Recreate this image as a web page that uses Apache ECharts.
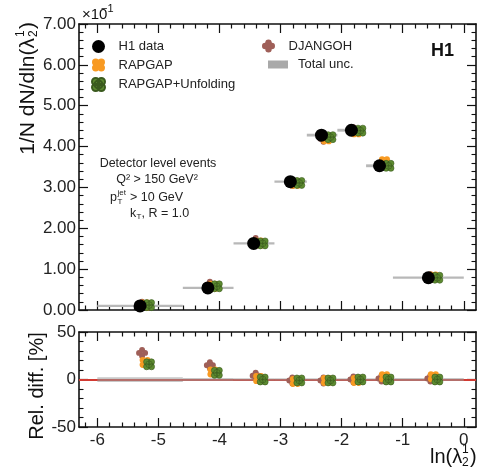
<!DOCTYPE html>
<html><head><meta charset="utf-8">
<script src="https://cdn.jsdelivr.net/npm/echarts@6/dist/echarts.min.js"></script>
<style>html,body{margin:0;padding:0;background:#fff}#c{width:478px;height:476px}</style>
</head><body><div id="c"></div>
<script>
// ---- data (top panel in units of 1e-1) ----
const binEdges   = [-6, -4.6, -3.77, -3.1, -2.57, -2.07, -1.6, -1.16, 0];
const binCenters = [-5.3, -4.19, -3.44, -2.84, -2.33, -1.84, -1.38, -0.58];
const h1Data     = [0.10, 0.54, 1.63, 3.14, 4.28, 4.40, 3.53, 0.79];
const rapgap     = [0.12, 0.58, 1.64, 3.10, 4.19, 4.36, 3.63, 0.81];
const rapgapUnf  = [0.12, 0.58, 1.63, 3.11, 4.23, 4.39, 3.53, 0.79];
const djangoh    = [0.13, 0.62, 1.69, 3.11, 4.19, 4.40, 3.57, 0.80];
const totalUncPct  = [2.5, 1.5, 1.0, 0.8, 0.8, 0.8, 1.0, 1.5];
const relRapgap    = [18, 8, 1, -2, -1, -1, 3, 3];
const relRapgapUnf = [16, 7, 0, -1, -1, 0, 0, 0];
const relDjangoh   = [28, 15, 4, -1, -1, 0, 1, 1];
const xMajorTicks  = [-6, -5, -4, -3, -2, -1, 0];
const xTickLabels  = ['-6', '-5', '-4', '-3', '-2', '-1', '0'];

const FF = '"Liberation Sans", Arial, Helvetica, sans-serif';
const xMinorTicks = [];
for (let k = -31; k <= 0; k++) { const v = Math.round(k * 2) / 10; if (Math.abs(v - Math.round(v)) > 1e-6) xMinorTicks.push(v); }

function circ(cx, cy, r) {
  return `M${cx - r} ${cy} A${r} ${r} 0 1 0 ${cx + r} ${cy} A${r} ${r} 0 1 0 ${cx - r} ${cy} Z `;
}
const d = 2.4, r = 3.1;
const xClover = 'path://' + circ(7 - d, 7 - d, r) + circ(7 + d, 7 - d, r) + circ(7 - d, 7 + d, r) + circ(7 + d, 7 + d, r) + circ(7, 7, 3.4);
const pd = 3.2;
const plusClover = 'path://' + circ(7, 7 - pd, r) + circ(7 + pd, 7, r) + circ(7, 7 + pd, r) + circ(7 - pd, 7, r) + circ(7, 7, 3.6) +
  'M6.4 4 L7.6 4 L7.6 6.4 L10 6.4 L10 7.6 L7.6 7.6 L7.6 10 L6.4 10 L6.4 7.6 L4 7.6 L4 6.4 L6.4 6.4 Z';

const lineCol = '#111';
function xAx(grid, pos, ticks, len, showLabel, showLine) {
  return {
    type: 'value', gridIndex: grid, position: pos, min: -6.3, max: 0.2,
    axisLine: { show: showLine, onZero: false, lineStyle: { color: lineCol, width: 1.6 } },
    axisTick: { show: true, inside: true, length: len, customValues: ticks, lineStyle: { color: lineCol, width: 1.2 } },
    axisLabel: {
      show: showLabel, customValues: xMajorTicks, margin: 5, fontSize: 17, color: '#222', fontFamily: FF,
      formatter: v => xTickLabels[xMajorTicks.indexOf(Math.round(v))]
    },
    splitLine: { show: false }
  };
}
function yAx(grid, pos, min, max, interval, showLabel, fmt) {
  return {
    type: 'value', gridIndex: grid, position: pos, min: min, max: max, interval: interval,
    axisLine: { show: true, onZero: false, lineStyle: { color: lineCol, width: 1.6 } },
    axisTick: { show: true, inside: true, length: 9, lineStyle: { color: lineCol, width: 1.2 } },
    minorTick: { show: true, splitNumber: 5, length: 4.5, lineStyle: { color: lineCol, width: 1.1 } },
    axisLabel: { show: showLabel, margin: 3, fontSize: 17, color: '#222', fontFamily: FF, formatter: fmt },
    splitLine: { show: false }, minorSplitLine: { show: false }
  };
}

function bandItem(minH, color, opacity) {
  return function (params, api) {
    const lo = api.value(0), hi = api.value(1), v = api.value(2), u = api.value(3);
    const p1 = api.coord([lo, v + u]), p2 = api.coord([hi, v - u]);
    const h = Math.max(p2[1] - p1[1], minH);
    return { type: 'rect', shape: { x: p1[0], y: (p1[1] + p2[1]) / 2 - h / 2, width: p2[0] - p1[0], height: h },
      style: { fill: color, opacity: opacity } };
  };
}

const topBand = binCenters.map((c, i) => [binEdges[i], binEdges[i + 1], h1Data[i], h1Data[i] * totalUncPct[i] / 100]);
const botBand = binCenters.map((c, i) => [binEdges[i], binEdges[i + 1], 0, totalUncPct[i]]);
const pts = arr => binCenters.map((c, i) => [c, arr[i]]);

const orange = '#f89a22', green = '#5d8b30', brown = '#9f5f58';

const option = {
  animation: false,
  grid: [
    { left: 79, right: 2, top: 24, height: 286 },
    { left: 79, right: 2, top: 332, height: 95 }
  ],
  xAxis: [
    xAx(0, 'bottom', xMajorTicks, 9, false, true),
    xAx(0, 'bottom', xMinorTicks, 4.5, false, false),
    xAx(0, 'top', xMajorTicks, 9, false, true),
    xAx(0, 'top', xMinorTicks, 4.5, false, false),
    xAx(1, 'bottom', xMajorTicks, 9, true, true),
    xAx(1, 'bottom', xMinorTicks, 4.5, false, false),
    xAx(1, 'top', xMajorTicks, 9, false, true),
    xAx(1, 'top', xMinorTicks, 4.5, false, false)
  ],
  yAxis: [
    yAx(0, 'left', 0, 7, 1, true, v => v.toFixed(2)),
    yAx(0, 'right', 0, 7, 1, false, v => ''),
    yAx(1, 'left', -50, 50, 50, true, v => String(v)),
    yAx(1, 'right', -50, 50, 50, false, v => '')
  ],
  legend: [
    { data: ['H1 data', 'RAPGAP', 'RAPGAP+Unfolding'], orient: 'vertical', left: 86, top: 35,
      itemWidth: 30, itemHeight: 13, itemGap: 5.5, selectedMode: false,
      textStyle: { fontSize: 13, color: '#222', fontFamily: FF } },
    { data: ['DJANGOH'], orient: 'vertical', left: 257, top: 34.5, itemWidth: 30, itemHeight: 13, selectedMode: false,
      textStyle: { fontSize: 13, color: '#222', fontFamily: FF } },
    { data: [{ name: 'Total unc.', icon: 'rect', itemStyle: { color: '#a9a9a9' } }], orient: 'vertical', left: 263, top: 53,
      itemWidth: 20, itemHeight: 8, selectedMode: false,
      textStyle: { fontSize: 13, color: '#222', fontFamily: FF, padding: [0, 0, 0, 5] } }
  ],
  series: [
    { name: 'Total unc.', type: 'custom', xAxisIndex: 0, yAxisIndex: 0, data: topBand, z: 1,
      itemStyle: { color: '#a9a9a9' }, renderItem: bandItem(2.2, '#b8b8b8', 1) },
    { name: 'DJANGOH', type: 'scatter', xAxisIndex: 0, yAxisIndex: 0, data: pts(djangoh), symbol: plusClover,
      symbolSize: 12, symbolOffset: [2, 0], itemStyle: { color: brown, opacity: 1 }, z: 2 },
    { name: 'RAPGAP', type: 'scatter', xAxisIndex: 0, yAxisIndex: 0, data: pts(rapgap), symbol: xClover,
      symbolSize: 11, symbolOffset: [5, 0], itemStyle: { color: orange, opacity: 1 }, z: 3 },
    { name: 'RAPGAP+Unfolding', type: 'scatter', xAxisIndex: 0, yAxisIndex: 0, data: pts(rapgapUnf), symbol: xClover,
      symbolSize: 11, symbolOffset: [9, 0], itemStyle: { color: green, borderColor: '#3a5a1e', borderWidth: 0.6, opacity: 1 }, z: 4 },
    { name: 'H1 data', type: 'scatter', xAxisIndex: 0, yAxisIndex: 0, data: pts(h1Data), symbol: 'circle',
      symbolSize: 13, itemStyle: { color: '#000', opacity: 1 }, z: 5 },

    { name: 'DJANGOH', type: 'scatter', xAxisIndex: 4, yAxisIndex: 2, data: pts(relDjangoh), symbol: plusClover,
      symbolSize: 12, symbolOffset: [2, 0], itemStyle: { color: brown, opacity: 1 }, z: 3,
      markLine: { silent: true, symbol: 'none', data: [{ yAxis: 0 }], label: { show: false },
        lineStyle: { color: '#d23a32', width: 2, type: 'solid' }, z: 1 } },
    { name: 'Total unc.', type: 'custom', xAxisIndex: 4, yAxisIndex: 2, data: botBand, z: 2,
      itemStyle: { color: '#a9a9a9' }, renderItem: bandItem(2.5, '#9a9a9a', 0.55) },
    { name: 'RAPGAP', type: 'scatter', xAxisIndex: 4, yAxisIndex: 2, data: pts(relRapgap), symbol: xClover,
      symbolSize: 11, symbolOffset: [5, 0], itemStyle: { color: orange, opacity: 1 }, z: 4 },
    { name: 'RAPGAP+Unfolding', type: 'scatter', xAxisIndex: 4, yAxisIndex: 2, data: pts(relRapgapUnf), symbol: xClover,
      symbolSize: 11, symbolOffset: [9, 0], itemStyle: { color: green, borderColor: '#3a5a1e', borderWidth: 0.6, opacity: 1 }, z: 5 }
  ],
  graphic: [
    { type: 'text', x: 82, y: 15, style: { text: '×10', font: '15px ' + FF, fill: '#111', align: 'left', verticalAlign: 'middle', textAlign: 'left', textVerticalAlign: 'middle' } },
    { type: 'text', x: 101, y: 9, style: { text: '−1', font: '11px ' + FF, fill: '#111', align: 'left', verticalAlign: 'middle', textAlign: 'left', textVerticalAlign: 'middle' } },
    { type: 'text', x: 431, y: 51, style: { text: 'H1', font: 'bold 18px ' + FF, fill: '#111', align: 'left', verticalAlign: 'middle', textAlign: 'left', textVerticalAlign: 'middle' } },
    { type: 'text', x: 158, y: 164, style: { text: 'Detector level events', font: '12.5px ' + FF, fill: '#222', align: 'center', verticalAlign: 'middle', textAlign: 'center', textVerticalAlign: 'middle' } },
    { type: 'text', x: 157, y: 180, style: { text: 'Q² > 150 GeV²', font: '12.5px ' + FF, fill: '#222', align: 'center', verticalAlign: 'middle', textAlign: 'center', textVerticalAlign: 'middle' } },
    { type: 'group', x: 110, y: 198, children: [
      { type: 'text', x: 0, y: 0, style: { text: 'p', font: '12.5px ' + FF, fill: '#222', align: 'left', verticalAlign: 'middle', textAlign: 'left', textVerticalAlign: 'middle' } },
      { type: 'text', x: 7.5, y: -5, style: { text: 'jet', font: '8px ' + FF, fill: '#222', align: 'left', verticalAlign: 'middle', textAlign: 'left', textVerticalAlign: 'middle' } },
      { type: 'text', x: 7.5, y: 4, style: { text: 'T', font: '8px ' + FF, fill: '#222', align: 'left', verticalAlign: 'middle', textAlign: 'left', textVerticalAlign: 'middle' } },
      { type: 'text', x: 20, y: 0, style: { text: '> 10 GeV', font: '12.5px ' + FF, fill: '#222', align: 'left', verticalAlign: 'middle', textAlign: 'left', textVerticalAlign: 'middle' } }
    ] },
    { type: 'group', x: 130, y: 214, children: [
      { type: 'text', x: 0, y: 0, style: { text: 'k', font: '12.5px ' + FF, fill: '#222', align: 'left', verticalAlign: 'middle', textAlign: 'left', textVerticalAlign: 'middle' } },
      { type: 'text', x: 6.5, y: 3, style: { text: 'T', font: '8px ' + FF, fill: '#222', align: 'left', verticalAlign: 'middle', textAlign: 'left', textVerticalAlign: 'middle' } },
      { type: 'text', x: 11.5, y: 0, style: { text: ', R = 1.0', font: '12.5px ' + FF, fill: '#222', align: 'left', verticalAlign: 'middle', textAlign: 'left', textVerticalAlign: 'middle' } }
    ] },
    { type: 'group', x: 28, y: 38, rotation: Math.PI / 2, children: [
      { type: 'text', x: 0, y: 0, style: { text: '1/N dN/dln(λ', font: '21px ' + FF, fill: '#111', align: 'right', verticalAlign: 'middle', textAlign: 'right', textVerticalAlign: 'middle' } },
      { type: 'text', x: 1, y: -7, style: { text: '1', font: '12px ' + FF, fill: '#111', align: 'left', verticalAlign: 'middle', textAlign: 'left', textVerticalAlign: 'middle' } },
      { type: 'text', x: 1, y: 6, style: { text: '2', font: '12px ' + FF, fill: '#111', align: 'left', verticalAlign: 'middle', textAlign: 'left', textVerticalAlign: 'middle' } },
      { type: 'text', x: 9, y: 0, style: { text: ')', font: '21px ' + FF, fill: '#111', align: 'left', verticalAlign: 'middle', textAlign: 'left', textVerticalAlign: 'middle' } }
    ] },
    { type: 'text', x: 37, y: 386, rotation: Math.PI / 2, style: { text: 'Rel. diff. [%]', font: '20px ' + FF, fill: '#111', align: 'center', verticalAlign: 'middle', textAlign: 'center', textVerticalAlign: 'middle' } },
    { type: 'group', x: 430, y: 457, children: [
      { type: 'text', x: 0, y: 0, style: { text: 'ln(λ', font: '20px ' + FF, fill: '#111', align: 'left', verticalAlign: 'middle', textAlign: 'left', textVerticalAlign: 'middle' } },
      { type: 'text', x: 32, y: -7, style: { text: '1', font: '12px ' + FF, fill: '#111', align: 'left', verticalAlign: 'middle', textAlign: 'left', textVerticalAlign: 'middle' } },
      { type: 'text', x: 32, y: 6, style: { text: '2', font: '12px ' + FF, fill: '#111', align: 'left', verticalAlign: 'middle', textAlign: 'left', textVerticalAlign: 'middle' } },
      { type: 'text', x: 40, y: 0, style: { text: ')', font: '20px ' + FF, fill: '#111', align: 'left', verticalAlign: 'middle', textAlign: 'left', textVerticalAlign: 'middle' } }
    ] }
  ]
};
const chart = echarts.init(document.getElementById('c'), null, { renderer: 'canvas' });
chart.setOption(option);
</script>
</body></html>
